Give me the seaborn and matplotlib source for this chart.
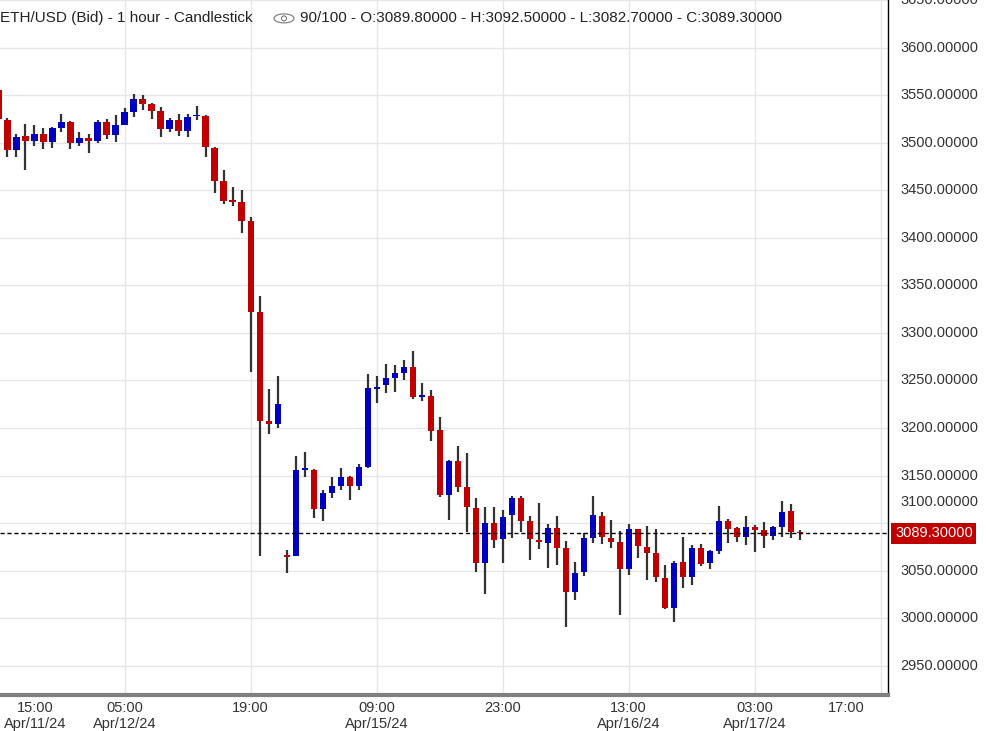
import matplotlib
matplotlib.use("Agg")
import matplotlib.pyplot as plt
import matplotlib.transforms as mtransforms
from matplotlib.patches import Ellipse
import seaborn as sns
import pandas as pd
import numpy as np

sns.set_style("white")
plt.rcParams['font.family'] = ['Liberation Sans', 'DejaVu Sans']

# hourly candles
opens = [3555, 3524, 3492.4, 3506.5, 3501.7, 3508.6, 3500.7, 3515.8, 3522, 3499.6,
         3504.5, 3501.7, 3522, 3508, 3519, 3532.4, 3545.9, 3540.7, 3533.4, 3514.8,
         3524, 3512.7, 3527.6, 3528.3, 3494, 3460, 3438.2, 3437.2, 3418, 3321.7,
         3207, 3204.7, 3065, 3065, 3156, 3156, 3115, 3131.2, 3139.5, 3148.8,
         3139.5, 3159, 3241, 3245, 3252.3, 3257.5, 3263.7, 3232.7, 3233.7, 3197.5,
         3130, 3165.4, 3137.5, 3115.7, 3057.8, 3100.2, 3083.4, 3108.3, 3126.5, 3102.7,
         3082, 3079.3, 3094.5, 3073.8, 3027.5, 3048.2, 3084.4, 3108, 3084, 3080,
         3051.3, 3093.4, 3074.8, 3068.6, 3042.7, 3011, 3059.3, 3043, 3073.8, 3058.6,
         3071, 3102.7, 3094.5, 3085.5, 3095.5, 3092.4, 3086.5, 3095.8, 3113, 3089.8]
highs = [3557, 3526, 3508.6, 3520, 3519, 3515.8, 3517, 3530.3, 3523, 3511.7,
         3509.6, 3524, 3525, 3529, 3536.5, 3551, 3550, 3541.7, 3537.6, 3526,
         3530.3, 3530.3, 3538.6, 3529.3, 3495, 3471.3, 3453.7, 3450.6, 3422, 3338.6,
         3241, 3254.4, 3072, 3170.6, 3174.7, 3157, 3135, 3148.8, 3158, 3150,
         3162.3, 3256.5, 3254.4, 3267.8, 3265.8, 3272, 3281.3, 3247, 3240, 3212,
         3166.4, 3181, 3173.7, 3126, 3116.8, 3116.8, 3114, 3128.6, 3128, 3108,
         3121.4, 3099.6, 3108, 3081, 3059.3, 3089.3, 3128.6, 3112, 3103.8, 3091.3,
         3099.6, 3093.4, 3096.5, 3093.4, 3056, 3060.3, 3085, 3076.9, 3078, 3072,
         3118.2, 3104.8, 3095.5, 3108, 3097.6, 3101.7, 3096.5, 3123.4, 3120.3, 3092.5]
lows = [3522, 3485, 3485, 3471.7, 3496, 3493.4, 3494.5, 3511, 3493.4, 3496.5,
        3489, 3499.6, 3503.8, 3500.7, 3519, 3526.5, 3534.5, 3525.2, 3505.5, 3510.7,
        3506.5, 3505.5, 3524, 3484.8, 3447.5, 3436, 3433, 3405, 3259, 3065,
        3193.7, 3199.6, 3048, 3065, 3148.8, 3105.7, 3102.6, 3126, 3135, 3124,
        3135, 3158, 3226.5, 3236.8, 3237.8, 3251, 3230, 3228.5, 3186, 3127,
        3103.3, 3132.5, 3091, 3048.5, 3025, 3074.3, 3058.6, 3084.4, 3090.7, 3061.7,
        3073, 3052.4, 3056.5, 2991.3, 3019, 3044, 3079.3, 3078, 3074, 3003.7,
        3045, 3063.7, 3040, 3037.7, 3010, 2996.5, 3031.7, 3035, 3055.4, 3051.3,
        3068, 3079.3, 3080.3, 3077.2, 3070, 3074, 3082.4, 3085.5, 3084.4, 3082.7]
closes = [3524.5, 3492.4, 3505.5, 3501.7, 3509.6, 3500.7, 3515.8, 3522, 3499.6, 3504.5,
          3501.7, 3522, 3508, 3519, 3532.4, 3545.9, 3540.7, 3533.4, 3514.8, 3524,
          3512.7, 3527.2, 3529.3, 3495.1, 3460, 3438.2, 3437.5, 3417.5, 3321.7, 3207,
          3204.7, 3225.4, 3064.6, 3156, 3157.5, 3115, 3131.2, 3139.5, 3148.8, 3139.5,
          3159, 3242, 3243, 3252.3, 3257.5, 3263.7, 3232.7, 3233.7, 3196.5, 3130,
          3165.4, 3137.5, 3116.8, 3057.8, 3100.2, 3082.6, 3106.9, 3126.5, 3102, 3083.4,
          3080.3, 3094.5, 3074, 3027.5, 3048, 3084, 3109, 3085.5, 3080.3, 3051.3,
          3093.4, 3076.2, 3069, 3043, 3011, 3058.2, 3043, 3073.8, 3057.5, 3070.6,
          3102.7, 3093.8, 3085.5, 3095.5, 3092.7, 3086.5, 3095.5, 3112, 3090.7, 3089.3]

tick_pos = [4.05, 14, 28, 42, 56, 70, 84, 94.2]
tick_labels = ['15:00\nApr/11/24', '05:00\nApr/12/24', '19:00', '09:00\nApr/15/24',
               '23:00', '13:00\nApr/16/24', '03:00\nApr/17/24', '17:00']
grid_pos = [14, 28, 42, 56, 70, 84, 98]
price_levels = list(range(2950, 3700, 50))
last_price = 3089.30

df = pd.DataFrame({'open': opens, 'high': highs, 'low': lows, 'close': closes})
df['i'] = np.arange(len(df))
df['up'] = df['close'] >= df['open']

fig = plt.figure(figsize=(9.86, 7.31), dpi=100)
ax = fig.add_axes([0, 1 - 695 / 731, 888 / 986, 695 / 731])

for g in grid_pos:
    ax.axvline(g, color='#e6e6e6', lw=1, zorder=0)
for v in price_levels:
    ax.axhline(v, color='#e6e6e6', lw=1, zorder=0)

ax.vlines(df['i'], df['low'], df['high'], color='#333333', lw=1.6, zorder=2)
bottom = np.minimum(df['open'], df['close'])
height = np.maximum(np.abs(df['close'] - df['open']), 1.8)
ax.bar(df['i'], height, bottom=bottom, width=0.68,
       color=np.where(df['up'], '#0000c0', '#c00000'), zorder=3, linewidth=0)

ax.axhline(last_price, color='black', lw=1, ls=(0, (3, 2)), zorder=4)

ax.set_xlim(0.17, 98.8)
ax.set_ylim(2919.3, 3638)
ax.set_yticks(price_levels)
ax.set_yticklabels([])
ax.set_xticks(tick_pos)
ax.set_xticklabels(tick_labels)
ax.tick_params(axis='both', length=0, labelsize=10.5, colors='#333333')
ax.tick_params(axis='x', pad=4)
for s in ['top', 'left']:
    ax.spines[s].set_visible(False)
ax.spines['right'].set_color('black')
ax.spines['right'].set_linewidth(1)
ax.spines['bottom'].set_color('#808080')
ax.spines['bottom'].set_linewidth(3)

trans = mtransforms.blended_transform_factory(ax.transAxes, ax.transData)
for v in price_levels:
    # the label near the price marker is pushed up, as in the original
    off = mtransforms.offset_copy(trans, fig=fig, y=21 if v == 3100 else 0, units='dots')
    ax.text(1.014, v, f'{v:.5f}', transform=off, color='#333333', fontsize=10.5,
            va='center', ha='left', clip_on=False)

ax.text(1.008, last_price, f'{last_price:.5f}', transform=trans, color='white',
        fontsize=10.5, va='center', ha='left', clip_on=False,
        bbox=dict(boxstyle='square,pad=0.25', fc='#c00000', ec='none'))

ax.text(0.0, 0.974, 'ETH/USD (Bid) - 1 hour - Candlestick', transform=ax.transAxes,
        fontsize=11, color='#222222', va='center', ha='left')
ax.add_patch(Ellipse((284 / 888, 0.9735), 20 / 888, 9 / 695, transform=ax.transAxes,
                     fill=False, ec='#777777', lw=0.8))
ax.add_patch(Ellipse((284 / 888, 0.9735), 5 / 888, 5 / 695, transform=ax.transAxes,
                     fill=False, ec='#777777', lw=0.8))
ax.text(300 / 888, 0.974,
        '90/100 - O:3089.80000 - H:3092.50000 - L:3082.70000 - C:3089.30000',
        transform=ax.transAxes, fontsize=11, color='#222222', va='center', ha='left')

fig.savefig('out.png', dpi=100)
